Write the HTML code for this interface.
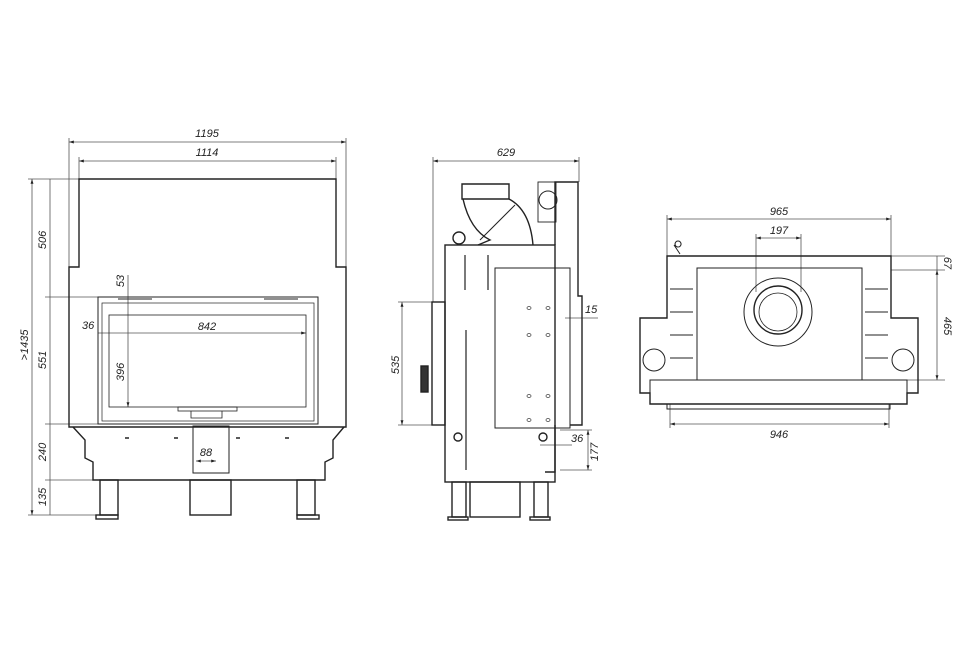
<!DOCTYPE html>
<html><head><meta charset="utf-8"><style>
html,body{margin:0;padding:0;background:#fff}
svg{display:block}
text{font-family:"Liberation Sans",sans-serif;font-size:11px;font-style:italic;fill:#222}
</style></head><body>
<svg width="970" height="647" viewBox="0 0 970 647" xmlns="http://www.w3.org/2000/svg">
<defs>
<marker id="a" viewBox="0 0 10 10" refX="10" refY="5" markerWidth="6" markerHeight="6" orient="auto-start-reverse"><path d="M0,2 L10,5 L0,8 z" fill="#222"/></marker>
</defs>
<g fill="none" stroke="#555" stroke-width="0.8">
<line x1="69" y1="142" x2="346" y2="142" marker-start="url(#a)" marker-end="url(#a)"/>
<line x1="79" y1="161" x2="336" y2="161" marker-start="url(#a)" marker-end="url(#a)"/>
<line x1="69" y1="138" x2="69" y2="267"/><line x1="346" y1="138" x2="346" y2="267"/>
<line x1="79" y1="157" x2="79" y2="179"/><line x1="336" y1="157" x2="336" y2="179"/>
<line x1="32" y1="179" x2="32" y2="515" marker-start="url(#a)" marker-end="url(#a)"/>
<line x1="50" y1="179" x2="50" y2="515"/>
<line x1="28" y1="179" x2="80" y2="179"/><line x1="45" y1="297" x2="98" y2="297"/>
<line x1="45" y1="424" x2="98" y2="424"/><line x1="45" y1="480" x2="100" y2="480"/>
<line x1="28" y1="515" x2="100" y2="515"/>
<line x1="128" y1="275" x2="128" y2="407" marker-end="url(#a)"/>
<line x1="98" y1="333" x2="306" y2="333" marker-end="url(#a)"/>
<line x1="196" y1="461" x2="216" y2="461" marker-start="url(#a)" marker-end="url(#a)"/>
</g>
<g fill="none" stroke="#222" stroke-width="1.4">
<path d="M79,179 H336 V267 H346 V427 H69 V267 H79 Z"/>
<rect x="98" y="297" width="220" height="127" stroke-width="1"/>
<rect x="102" y="303" width="212" height="118" stroke-width="0.7"/>
<rect x="109" y="315" width="197" height="92" stroke-width="0.8"/>
<path d="M73,427 L85,440 V458 L93,462 V480 H325 V462 L333,458 V440 L344,427"/>
<rect x="100" y="480" width="18" height="35"/><rect x="297" y="480" width="18" height="35"/>
<rect x="96" y="515" width="22" height="4"/><rect x="297" y="515" width="22" height="4"/>
<rect x="190" y="480" width="41" height="35"/>
<rect x="193" y="426" width="36" height="47" stroke-width="1"/>
<rect x="178" y="407" width="59" height="4" stroke-width="0.8"/>
<path d="M191,411 V418 H222 V411" stroke-width="0.8"/>
<line x1="118" y1="299" x2="152" y2="299" stroke-width="1"/><line x1="264" y1="299" x2="298" y2="299" stroke-width="1"/>
<line x1="125" y1="438" x2="129" y2="438" stroke-width="1.5"/><line x1="174" y1="438" x2="178" y2="438" stroke-width="1.5"/>
<line x1="236" y1="438" x2="240" y2="438" stroke-width="1.5"/><line x1="285" y1="438" x2="289" y2="438" stroke-width="1.5"/>
</g>
<text x="207" y="137" text-anchor="middle">1195</text>
<text x="207" y="156" text-anchor="middle">1114</text>
<text x="207" y="330" text-anchor="middle">842</text>
<text x="82" y="329">36</text>
<text x="206" y="456" text-anchor="middle">88</text>
<text transform="translate(46,240) rotate(-90)" text-anchor="middle">506</text>
<text transform="translate(46,360) rotate(-90)" text-anchor="middle">551</text>
<text transform="translate(46,452) rotate(-90)" text-anchor="middle">240</text>
<text transform="translate(46,497) rotate(-90)" text-anchor="middle">135</text>
<text transform="translate(28,345) rotate(-90)" text-anchor="middle">&gt;1435</text>
<text transform="translate(124,281) rotate(-90)" text-anchor="middle">53</text>
<text transform="translate(124,372) rotate(-90)" text-anchor="middle">396</text>

<g fill="none" stroke="#555" stroke-width="0.8">
<line x1="433" y1="161" x2="579" y2="161" marker-start="url(#a)" marker-end="url(#a)"/>
<line x1="433" y1="157" x2="433" y2="302"/><line x1="579" y1="157" x2="579" y2="182"/>
<line x1="402" y1="302" x2="402" y2="425" marker-start="url(#a)" marker-end="url(#a)"/>
<line x1="398" y1="302" x2="433" y2="302"/><line x1="398" y1="425" x2="433" y2="425"/>
<line x1="565" y1="318" x2="598" y2="318"/>
<line x1="540" y1="445" x2="572" y2="445"/>
<line x1="588" y1="430" x2="588" y2="470" marker-start="url(#a)" marker-end="url(#a)"/>
<line x1="560" y1="430" x2="592" y2="430"/><line x1="560" y1="470" x2="592" y2="470"/>
</g>
<g fill="none" stroke="#222" stroke-width="1.4">
<rect x="445" y="245" width="110" height="237"/>
<rect x="432" y="302" width="13" height="123"/>
<rect x="495" y="268" width="75" height="160" stroke-width="1"/>
<path d="M555,245 V182 H578 V296 H582 V425 H570"/>
<path d="M555,425 V472 H545"/>
<path d="M462,184 H509 V199 H462 Z"/>
<path d="M463,199 Q470,230 490,240 L478,245 M509,199 Q530,210 533,245"/>
<line x1="480" y1="240" x2="515" y2="205" stroke-width="1"/>
<circle cx="459" cy="238" r="6"/>
<circle cx="548" cy="200" r="9" stroke-width="1"/>
<rect x="538" y="182" width="18" height="40" stroke-width="0.9"/>
<circle cx="458" cy="437" r="4"/><circle cx="543" cy="437" r="4"/>
<rect x="452" y="482" width="14" height="35"/><rect x="534" y="482" width="14" height="35"/>
<rect x="448" y="517" width="20" height="3"/><rect x="530" y="517" width="20" height="3"/>
<rect x="470" y="482" width="50" height="35"/>
<rect x="421" y="366" width="7" height="26" fill="#333"/>
<line x1="465" y1="255" x2="465" y2="290" stroke-width="1.2"/><line x1="488" y1="255" x2="488" y2="290" stroke-width="1.2"/>
<line x1="466" y1="330" x2="466" y2="470" stroke-width="1.2"/>
</g>
<g fill="none" stroke="#444" stroke-width="0.8">
<ellipse cx="529" cy="308" rx="2" ry="1.5"/><ellipse cx="548" cy="308" rx="2" ry="1.5"/>
<ellipse cx="529" cy="335" rx="2" ry="1.5"/><ellipse cx="548" cy="335" rx="2" ry="1.5"/>
<ellipse cx="529" cy="396" rx="2" ry="1.5"/><ellipse cx="548" cy="396" rx="2" ry="1.5"/>
<ellipse cx="529" cy="420" rx="2" ry="1.5"/><ellipse cx="548" cy="420" rx="2" ry="1.5"/>
</g>
<text x="506" y="156" text-anchor="middle">629</text>
<text x="585" y="313">15</text>
<text x="571" y="442">36</text>
<text transform="translate(598,452) rotate(-90)" text-anchor="middle">177</text>
<text transform="translate(399,365) rotate(-90)" text-anchor="middle">535</text>

<g fill="none" stroke="#555" stroke-width="0.8">
<line x1="667" y1="219" x2="891" y2="219" marker-start="url(#a)" marker-end="url(#a)"/>
<line x1="667" y1="215" x2="667" y2="256"/><line x1="891" y1="215" x2="891" y2="256"/>
<line x1="756" y1="238" x2="801" y2="238" marker-start="url(#a)" marker-end="url(#a)"/>
<line x1="756" y1="234" x2="756" y2="292"/><line x1="801" y1="234" x2="801" y2="292"/>
<line x1="670" y1="424" x2="889" y2="424" marker-start="url(#a)" marker-end="url(#a)"/>
<line x1="670" y1="404" x2="670" y2="428"/><line x1="889" y1="404" x2="889" y2="428"/>
<line x1="891" y1="256" x2="945" y2="256"/><line x1="891" y1="270" x2="945" y2="270"/>
<line x1="891" y1="380" x2="945" y2="380"/>
<line x1="937" y1="256" x2="937" y2="270"/>
<line x1="937" y1="270" x2="937" y2="380" marker-start="url(#a)" marker-end="url(#a)"/>
</g>
<g fill="none" stroke="#222" stroke-width="1.4">
<path d="M667,256 H891 V318 H918 V393 H907 V404 H650 V393 H640 V318 H667 Z"/>
<rect x="650" y="380" width="257" height="24" stroke-width="1"/>
<rect x="667" y="404" width="223" height="5" stroke-width="1"/>
<rect x="697" y="268" width="165" height="112" stroke-width="1"/>
<circle cx="778" cy="312" r="34" stroke-width="1"/>
<circle cx="778" cy="310" r="24"/>
<circle cx="778" cy="312" r="19" stroke-width="0.8"/>
<circle cx="654" cy="360" r="11" stroke-width="1"/><circle cx="903" cy="360" r="11" stroke-width="1"/>
<path d="M670,289 H693 M670,312 H693 M670,335 H693 M670,358 H693 M865,289 H888 M865,312 H888 M865,335 H888 M865,358 H888" stroke-width="1"/>
<path d="M674,245 L680,254 M678,247 a3,3 0 1,1 0.1,0" stroke-width="1"/>
</g>
<text x="779" y="215" text-anchor="middle">965</text>
<text x="779" y="234" text-anchor="middle">197</text>
<text x="779" y="438" text-anchor="middle">946</text>
<text transform="translate(944,263) rotate(90)" text-anchor="middle">67</text>
<text transform="translate(944,326) rotate(90)" text-anchor="middle">465</text>
</svg>
</body></html>
